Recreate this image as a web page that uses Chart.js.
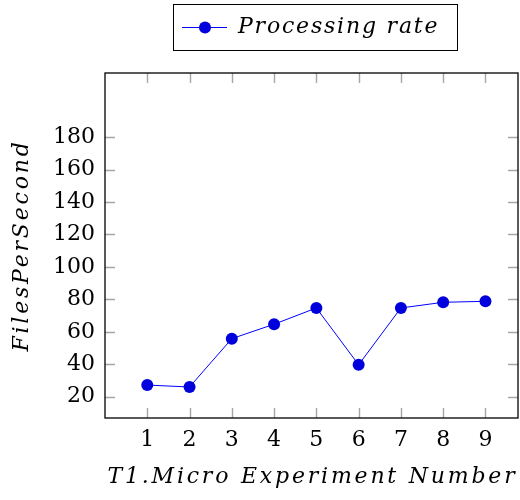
<!DOCTYPE html>
<html>
<head>
<meta charset="utf-8">
<script src="https://cdn.jsdelivr.net/npm/chart.js@4"></script>
<style>
  html, body { margin: 0; padding: 0; background: #fff; }
  #wrap { width: 520px; height: 500px; }
</style>
</head>
<body>
<div id="wrap"><canvas id="lineChart" width="520" height="500"></canvas></div>
<script>
// data
const experiments = [1, 2, 3, 4, 5, 6, 7, 8, 9];
const filesPerSecond = [27.2, 26.0, 55.8, 64.7, 74.7, 39.7, 74.7, 78.2, 78.8];
const yTickValues = [20, 40, 60, 80, 100, 120, 140, 160, 180];
const xTickValues = [1, 2, 3, 4, 5, 6, 7, 8, 9];
const seriesLabel = 'Processing rate';
const xTitle = 'T1.Micro Experiment Number';
const yTitle = 'FilesPerSecond';

const serif = "'DejaVu Serif', serif";
const markColor = '#0000dd';

// pgfplots-like frame: box around the plot, small inner tick marks,
// the axis titles (math italic is spaced wide) and the boxed legend
const framePlugin = {
    id: 'frame',
    afterDraw(chart) {
        const ctx = chart.ctx;
        const a = chart.chartArea;
        const xs = chart.scales.x, ys = chart.scales.y;
        ctx.save();
        ctx.strokeStyle = '#a6a6a6';
        ctx.lineWidth = 1.4;
        const t = 10;
        ctx.beginPath();
        xTickValues.forEach(v => {
            const px = Math.round(xs.getPixelForValue(v)) + 0.5;
            ctx.moveTo(px, a.bottom); ctx.lineTo(px, a.bottom - t);
            ctx.moveTo(px, a.top); ctx.lineTo(px, a.top + t);
        });
        yTickValues.forEach(v => {
            const py = Math.round(ys.getPixelForValue(v)) + 0.5;
            ctx.moveTo(a.left, py); ctx.lineTo(a.left + t, py);
            ctx.moveTo(a.right, py); ctx.lineTo(a.right - t, py);
        });
        ctx.stroke();
        ctx.strokeStyle = '#000';
        ctx.lineWidth = 1.3;
        ctx.strokeRect(a.left, a.top, a.right - a.left, a.bottom - a.top);

        // axis titles
        ctx.fillStyle = '#000';
        ctx.font = "italic 22px " + serif;
        ctx.textAlign = 'center';
        ctx.textBaseline = 'middle';
        ctx.letterSpacing = '2.8px';
        ctx.fillText(xTitle, (a.left + a.right) / 2 + 1, 477);
        ctx.save();
        ctx.translate(22, (a.top + a.bottom) / 2);
        ctx.rotate(-Math.PI / 2);
        ctx.fillText(yTitle, 0, 0);
        ctx.restore();

        // legend box
        const lx = 173, ly = 4, lw = 284, lh = 46;
        ctx.lineWidth = 1;
        ctx.strokeRect(lx + 0.5, ly + 0.5, lw, lh);
        const cy = ly + lh / 2 + 0.5;
        ctx.strokeStyle = 'blue';
        ctx.beginPath();
        ctx.moveTo(182, cy); ctx.lineTo(227, cy);
        ctx.stroke();
        ctx.fillStyle = markColor;
        ctx.beginPath();
        ctx.arc(205, cy, 6, 0, Math.PI * 2);
        ctx.fill();
        ctx.fillStyle = '#000';
        ctx.letterSpacing = '1.8px';
        ctx.textAlign = 'left';
        ctx.fillText(chart.data.datasets[0].label, 238, cy);
        ctx.restore();
    }
};

const ctx = document.getElementById('lineChart');

window.chart = new Chart(ctx, {
    type: 'line',
    data: {
        labels: experiments,
        datasets: [{
            label: seriesLabel,
            data: experiments.map((x, i) => ({ x: x, y: filesPerSecond[i] })),
            borderColor: 'blue',
            backgroundColor: markColor,
            borderWidth: 1,
            pointRadius: 6,
            pointHoverRadius: 6,
            pointBorderWidth: 0,
            tension: 0
        }]
    },
    options: {
        responsive: false,
        animation: false,
        layout: { autoPadding: false, padding: { top: 73, right: 2, left: 0, bottom: 0 } },
        plugins: {
            legend: { display: false },
            tooltip: { enabled: false }
        },
        scales: {
            x: {
                type: 'linear',
                min: 0,
                max: 9.77,
                afterBuildTicks: s => { s.ticks = xTickValues.map(v => ({ value: v })); },
                afterFit: s => { s.height = 82; },
                grid: { display: false, drawTicks: false },
                border: { display: false },
                ticks: {
                    padding: 9,
                    color: '#000',
                    font: { family: serif, size: 22 }
                },
                title: { display: false }
            },
            y: {
                min: 6.9,
                max: 219.5,
                afterBuildTicks: s => { s.ticks = yTickValues.map(v => ({ value: v })); },
                afterFit: s => { s.width = 105; },
                grid: { display: false, drawTicks: false },
                border: { display: false },
                ticks: {
                    padding: 10,
                    color: '#000',
                    font: { family: serif, size: 22 }
                },
                title: { display: false }
            }
        }
    },
    plugins: [framePlugin]
});
</script>
</body>
</html>
